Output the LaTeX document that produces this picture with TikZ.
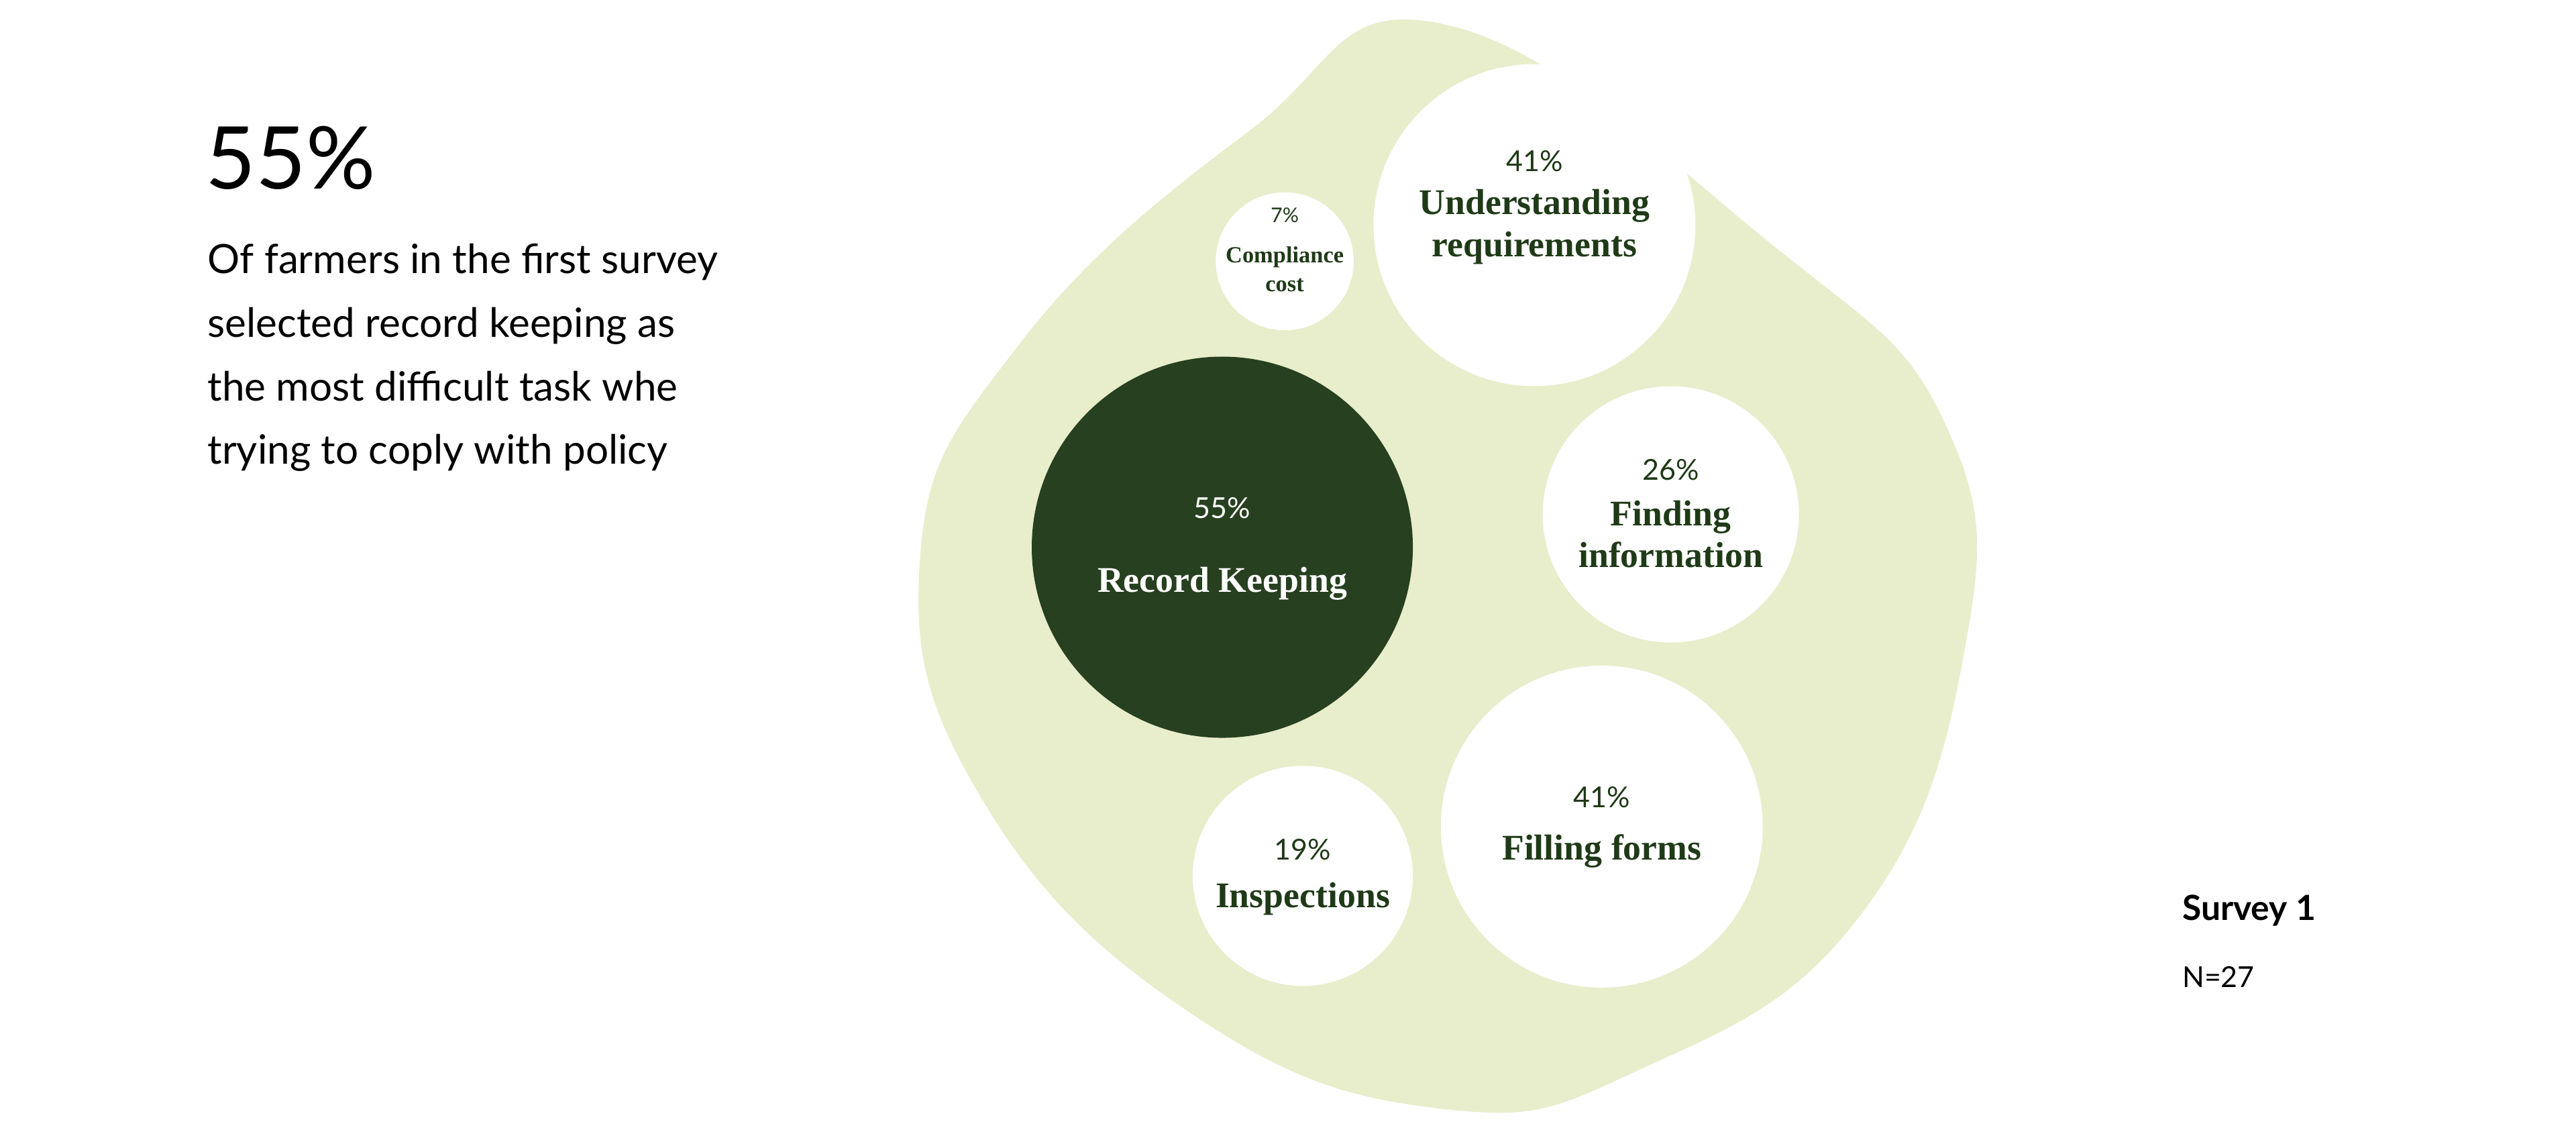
\documentclass[tikz,border=0pt]{standalone}
\usepackage{fontspec}
\setmainfont{Lato}
\newfontfamily\serifb{Liberation Serif}
\begin{document}
\begin{tikzpicture}[x=0.02cm,y=-0.02cm,
  bub/.style={circle,fill=white,inner sep=0},
  pct/.style={text=labgreen,font=\fontsize{10}{12}\selectfont},
  lab/.style={text=labgreen,font=\serifb\bfseries\fontsize{12.5}{14.5}\selectfont,align=center}]
\definecolor{blob}{HTML}{E8EDCB}
\definecolor{dark}{HTML}{27401F}
\definecolor{labgreen}{HTML}{1F3A17}
\useasboundingbox (0,0) rectangle (1568,690);
\fill[blob] plot[smooth cycle,tension=0.75] coordinates {(880,15) (1080,150) (1185,260) (1195,400) (1130,560) (1000,650) (880,675) (730,620) (600,490) (560,340) (620,210) (760,80)};
\node[bub,minimum size=1.68cm] (cc) at (782,159) {};
\node[bub,minimum size=3.92cm] (ur) at (934,137) {};
\node[circle,fill=dark,minimum size=4.64cm] (rk) at (744,333) {};
\node[bub,minimum size=3.12cm] (fi) at (1017,313) {};
\node[bub,minimum size=3.92cm] (ff) at (975,503) {};
\node[bub,minimum size=2.68cm] (in) at (793,533) {};
\node[pct,font=\fontsize{7}{8}\selectfont] (ccp) at (782,131) {7\%};
\node[lab,font=\serifb\bfseries\fontsize{8}{10}\selectfont] (ccl) at (782,164) {Compliance\\cost};
\node[pct] (urp) at (934,98) {41\%};
\node[lab] (url) at (934,138) {Understanding\\requirements};
\node[pct,text=white] (rkp) at (744,309) {55\%};
\node[lab,text=white] (rkl) at (744,355) {Record Keeping};
\node[pct] (fip) at (1017,286) {26\%};
\node[lab] (fil) at (1017,325) {Finding\\information};
\node[pct] (ffp) at (975,485) {41\%};
\node[lab] (ffl) at (975,518) {Filling forms};
\node[pct] (inp) at (793,517) {19\%};
\node[lab] (inl) at (793,547) {Inspections};
\node[anchor=base west,inner sep=0,font=\fontsize{30}{34}\selectfont] (big) at (125,115) {55\%};
\node[anchor=north west,inner sep=0,align=left,font=\fontsize{14}{22}\selectfont] (txt) at (126,148) {Of farmers in the first survey\\selected record keeping as\\the most difficult task whe\\trying to coply with policy};
\node[anchor=base west,inner sep=0,font=\bfseries\fontsize{12}{14}\selectfont] (s1) at (1328,560) {Survey 1};
\node[anchor=base west,inner sep=0,font=\fontsize{10}{12}\selectfont] (n) at (1328,601) {N=27};
\end{tikzpicture}
\end{document}
